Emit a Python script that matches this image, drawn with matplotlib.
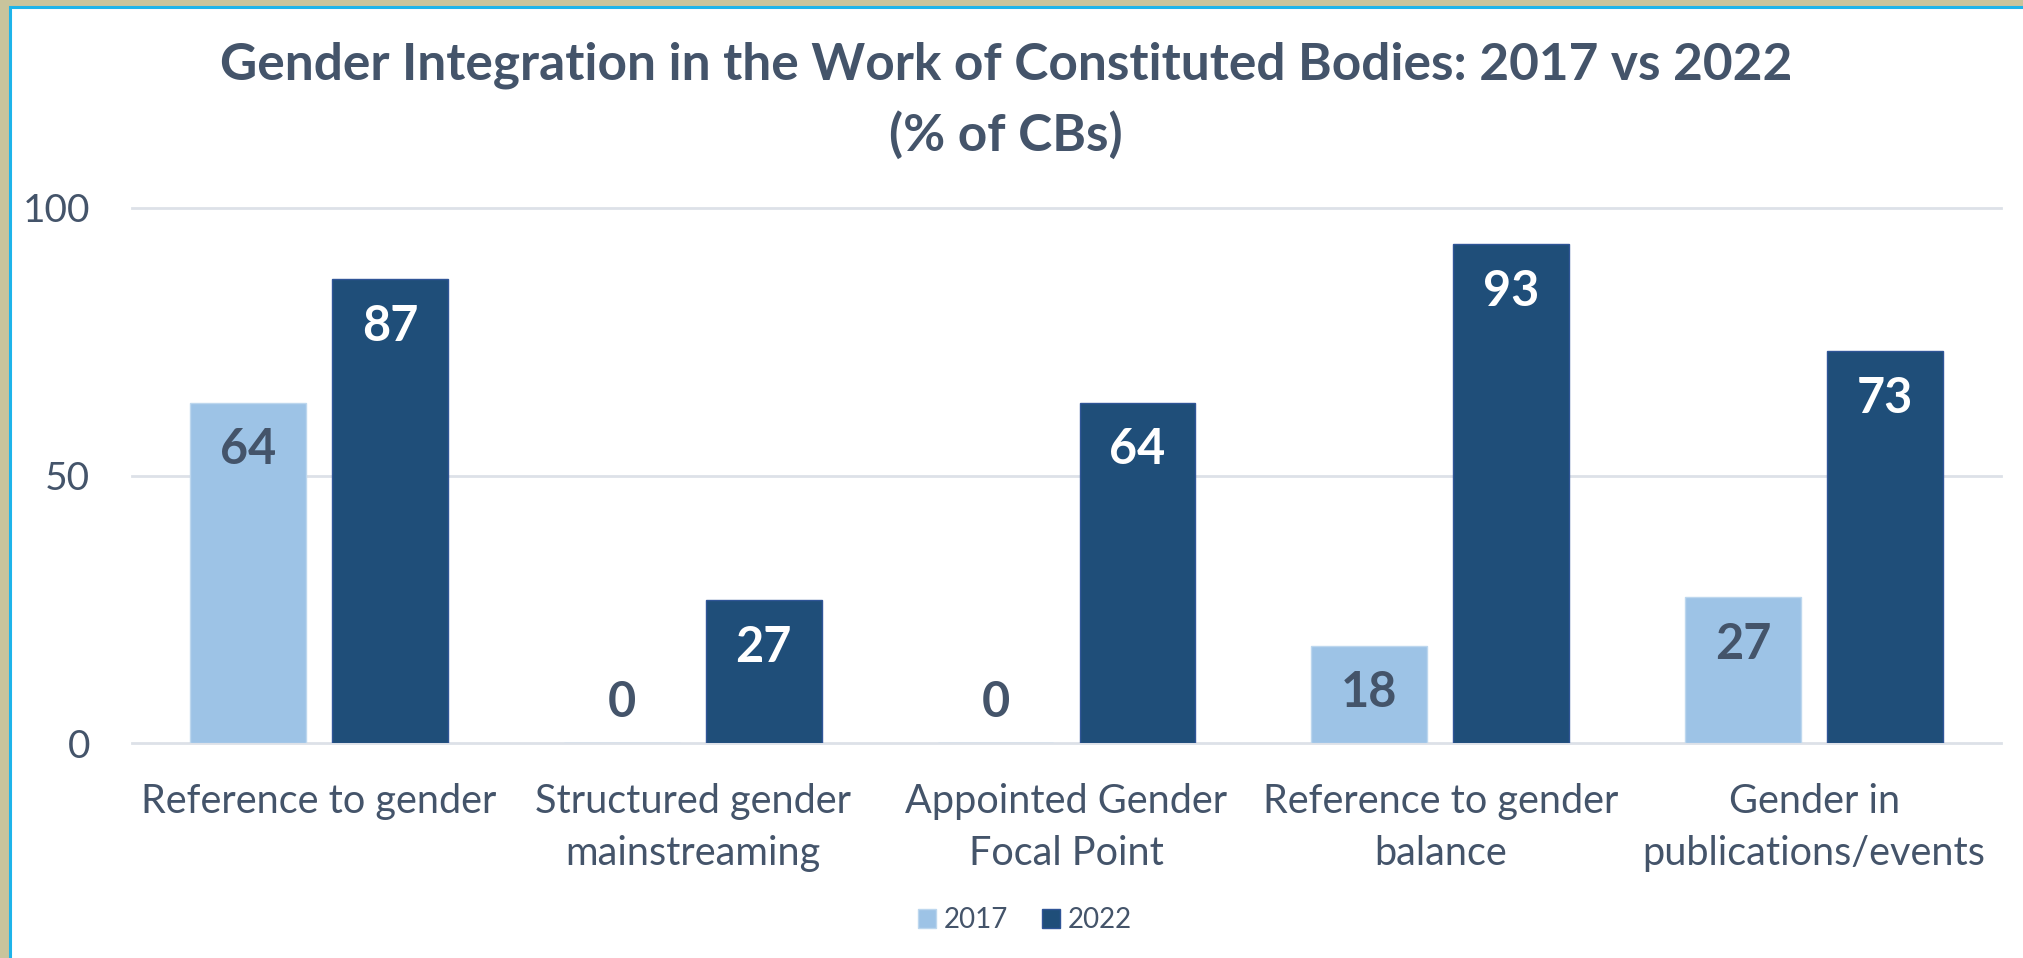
import matplotlib
matplotlib.use("Agg")
import matplotlib.pyplot as plt
from matplotlib.patches import Rectangle, Patch
import numpy as np

categories = ["Reference to gender", "Structured gender\nmainstreaming",
              "Appointed Gender\nFocal Point", "Reference to gender\nbalance",
              "Gender in\npublications/events"]
values_2017 = [63.6, 0, 0, 18.2, 27.3]
values_2022 = [86.7, 26.7, 63.6, 93.3, 73.3]
series_names = ["2017", "2022"]
title_lines = ["Gender Integration in the Work of Constituted Bodies: 2017 vs 2022", "(% of CBs)"]
yticks = [0, 50, 100]

W, H = 2023, 958
DPI = 100
FONT = ["Lato", "DejaVu Sans"]
TXT = "#44546A"
LIGHT = "#9DC3E6"
DARK = "#1F4E79"
GRID = "#DDE1E8"

plt.rcParams['font.family'] = FONT
fig = plt.figure(figsize=(W / DPI, H / DPI), dpi=DPI)
fig.patch.set_facecolor("#C9C49C")

# white panel with teal border
panel = Rectangle((10 / W, -0.05), 1.2, 1.05 - 7 / H, transform=fig.transFigure,
                  facecolor="white", edgecolor="#1EB4EA", linewidth=2.2, zorder=-5)
fig.patches.append(panel)

left, right, bottom, top = 132 / W, 2001 / W, 1 - 743 / H, 1 - 208 / H
ax = fig.add_axes([left, bottom, right - left, top - bottom])
ax.set_facecolor("none")
ax.set_zorder(2)

x = np.arange(len(categories))
bw = 0.31
off = 0.19
b1 = ax.bar(x - off, values_2017, bw, color=LIGHT, edgecolor="#BDD7EE", linewidth=1, zorder=3)
b2 = ax.bar(x + off, values_2022, bw, color=DARK, edgecolor="#2F5597", linewidth=1, zorder=3)

ax.set_xlim(-0.5, len(categories) - 0.5)
ax.set_ylim(0, 100)
for v in yticks:
    ax.axhline(v, color=GRID, linewidth=2, zorder=1, clip_on=False)

for s in ax.spines.values():
    s.set_visible(False)
ax.set_yticks(yticks)
ax.set_yticklabels([str(v) for v in yticks], fontsize=28, color=TXT)
ax.tick_params(axis='y', length=0, pad=30)
ax.set_xticks(x)
ax.set_xticklabels(categories, fontsize=28.5, color=TXT, linespacing=1.5, va='top')
ax.tick_params(axis='x', length=0, pad=29)

def label(bars, vals, color):
    for rect, v in zip(bars, vals):
        cx = rect.get_x() + rect.get_width() / 2
        if v > 10:
            ax.annotate(f"{v:.0f}", (cx, v), xytext=(0, -34), textcoords="offset points",
                        ha="center", va="center", fontsize=35, fontweight="bold",
                        color=color, zorder=4)
        else:
            ax.annotate(f"{v:.0f}", (cx, v), xytext=(0, 29), textcoords="offset points",
                        ha="center", va="center", fontsize=35, fontweight="bold",
                        color=TXT, zorder=4)

label(b1, values_2017, TXT)
label(b2, values_2022, "white")

fig.text(1006 / W, 1 - 65 / H, title_lines[0], ha="center", va="center",
         fontsize=37, fontweight="bold", color=TXT)
fig.text(1006 / W, 1 - 135 / H, title_lines[1], ha="center", va="center",
         fontsize=37, fontweight="bold", color=TXT)

handles = [Patch(facecolor=LIGHT, edgecolor="#BDD7EE"), Patch(facecolor=DARK, edgecolor="#2F5597")]
leg = fig.legend(handles, series_names, loc="center", bbox_to_anchor=(1025 / W, 1 - 920 / H),
                 ncol=2, frameon=False, fontsize=20, handlelength=0.65, handleheight=0.65,
                 handletextpad=0.3, columnspacing=1.2)
for t in leg.get_texts():
    t.set_color(TXT)

fig.savefig("out.png", dpi=DPI, facecolor=fig.get_facecolor())
